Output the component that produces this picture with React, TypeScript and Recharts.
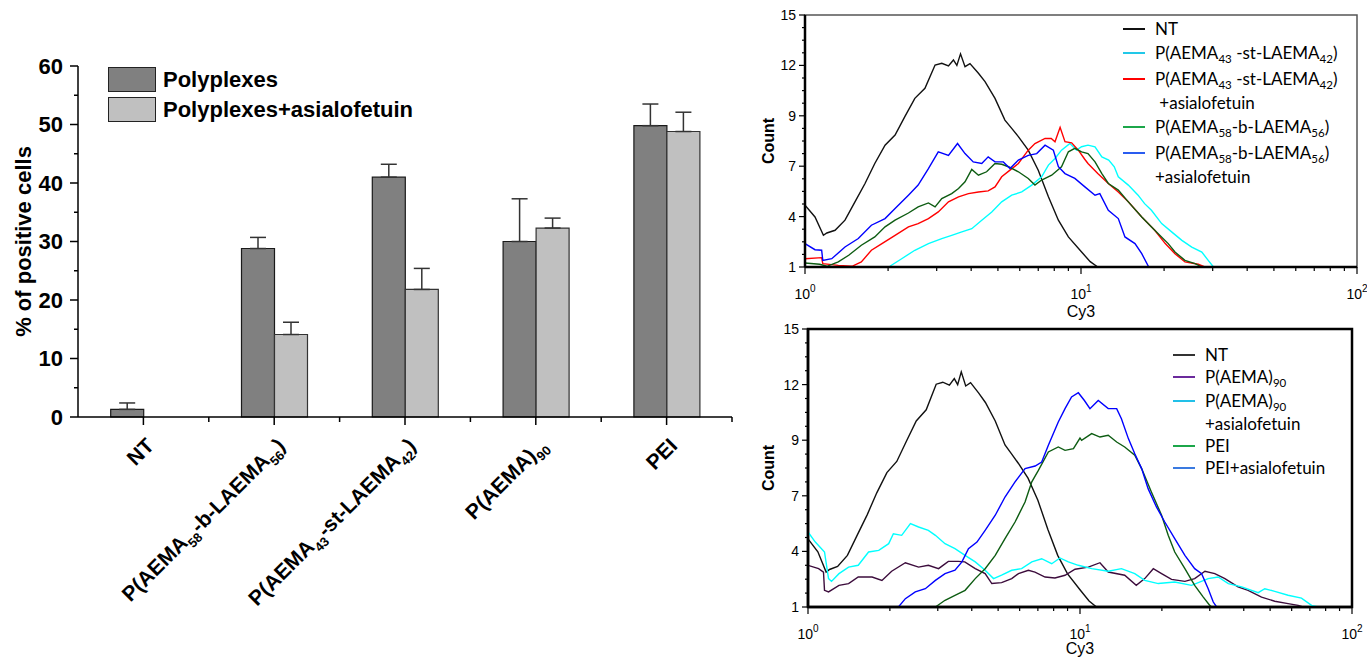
import React from "react";
import {
  BarChart,
  Bar,
  XAxis,
  YAxis,
  ErrorBar,
  Legend,
  LineChart,
  Line,
  Label,
  ReferenceArea,
} from "recharts";

const ARIAL = "'Liberation Sans', Arial, sans-serif";
const CALIBRI = "Lato, 'Open Sans', sans-serif";

// ---- bar chart (% of positive cells) ----
const categories = [
  "NT",
  "P(AEMA_{58}-b-LAEMA_{56})",
  "P(AEMA_{43}-st-LAEMA_{42})",
  "P(AEMA)_{90}",
  "PEI",
];
const seriesNames = ["Polyplexes", "Polyplexes+asialofetuin"];
const polyplexes = [1.3, 28.8, 41.0, 30.0, 49.8];
const polyplexesErr = [1.1, 1.9, 2.2, 7.3, 3.7];
const asialofetuin: (number | null)[] = [null, 14.1, 21.8, 32.3, 48.8];
const asialofetuinErr: (number | null)[] = [null, 2.1, 3.6, 1.7, 3.3];
const percentTicks = [0, 5, 10, 15, 20, 25, 30, 35, 40, 45, 50, 55, 60];

// ---- flow cytometry histograms: [Cy3, Count] ----
type Pt = [number, number];

const ntHistogram: Pt[] = [
  [1, 4.43], [1.087, 3.78], [1.166, 2.76], [1.2, 2.89], [1.285, 3.04], [1.396, 3.6],
  [1.517, 4.62], [1.65, 5.64], [1.79, 6.75], [1.95, 7.77], [2.12, 8.33], [2.3, 9.35],
  [2.5, 10.37], [2.72, 10.93], [2.96, 12.22], [3.13, 12.32], [3.31, 12.17], [3.45, 12.5],
  [3.55, 12.2], [3.66, 12.84], [3.8, 12.13], [3.96, 12.3], [4.25, 11.76], [4.49, 11.3],
  [4.88, 10.37], [5.3, 9.16], [5.61, 8.7], [5.93, 8.24], [6.44, 7.49], [7.0, 6.38],
  [7.62, 4.9], [8.28, 3.6], [9.0, 2.67], [10.05, 1.83], [10.8, 1.3], [11.5, 1],
];
const stHistogram: Pt[] = [
  [2.03, 1.04], [2.24, 1.46], [2.5, 1.93], [2.8, 2.3], [3.13, 2.58], [3.4, 2.76],
  [3.7, 2.95], [4.02, 3.13], [4.37, 3.6], [4.75, 4.06], [5.16, 4.62], [5.61, 4.99],
  [6.1, 5.17], [6.63, 5.55], [7.2, 6.01], [7.62, 6.66], [8.05, 7.03], [8.5, 7.49],
  [9.12, 7.86], [9.63, 7.49], [10.05, 7.68], [10.6, 7.77], [11.24, 7.68], [11.9, 7.12],
  [12.6, 6.94], [13.2, 6.57], [13.65, 6.01], [14.84, 5.55], [16.1, 4.99], [17.0, 4.52],
  [18.0, 4.15], [19.6, 3.41], [21.3, 2.95], [23.2, 2.48], [25.2, 2.11], [27.4, 1.83],
  [28.9, 1.37], [30.2, 1],
];
const stAsialoHistogram: Pt[] = [
  [1, 1.46], [1.149, 1.52], [1.16, 1.19], [1.32, 1.09], [1.48, 1.04], [1.6, 1.28],
  [1.74, 1.93], [1.9, 2.3], [2.12, 2.76], [2.37, 3.23], [2.57, 3.41], [2.8, 3.69],
  [3.04, 4.06], [3.31, 4.62], [3.6, 4.9], [3.91, 5.08], [4.25, 5.17], [4.61, 5.23],
  [4.88, 5.45], [5.16, 6.01], [5.53, 6.38], [5.93, 6.75], [6.44, 7.49], [6.81, 7.86],
  [7.41, 8.14], [7.8, 8.14], [8.05, 7.96], [8.4, 8.76], [8.75, 7.96], [9.25, 7.9],
  [9.78, 7.49], [10.3, 7.0], [10.6, 6.75], [11.5, 6.19], [12.56, 5.64], [13.65, 5.17],
  [14.84, 4.62], [16.6, 3.78], [18.5, 3.04], [20.2, 2.3], [21.9, 1.74], [23.8, 1.28],
  [26.6, 1.15], [28.1, 1],
];
const blockHistogram: Pt[] = [
  [1, 1.22], [1.13, 1.15], [1.2, 1.04], [1.32, 1.28], [1.44, 1.65], [1.6, 2.21],
  [1.79, 2.67], [1.95, 3.23], [2.12, 3.6], [2.37, 4.0], [2.57, 4.34], [2.8, 4.56],
  [2.96, 4.34], [3.13, 4.8], [3.4, 5.08], [3.6, 5.36], [3.8, 5.73], [4.02, 6.42],
  [4.25, 6.1], [4.55, 6.29], [4.88, 6.75], [5.16, 6.71], [5.46, 6.57], [5.93, 6.29],
  [6.44, 5.92], [6.81, 5.55], [7.2, 5.83], [7.83, 6.1], [8.5, 6.57], [9.0, 7.4],
  [9.5, 7.59], [10.05, 7.4], [10.6, 7.3], [11.24, 6.84], [11.9, 6.19], [12.56, 5.64],
  [13.65, 5.27], [14.84, 4.62], [16.6, 3.78], [18.5, 3.04], [20.7, 2.3], [21.9, 1.83],
  [23.8, 1.37], [25.9, 1.19], [27.4, 1],
];
const blockAsialoHistogram: Pt[] = [
  [1, 2.3], [1.087, 1.96], [1.149, 1.93], [1.16, 1.37], [1.25, 1.46], [1.396, 2.11],
  [1.56, 2.58], [1.74, 3.32], [1.95, 3.69], [2.12, 4.25], [2.37, 4.99], [2.57, 5.55],
  [2.8, 6.47], [3.04, 7.4], [3.31, 7.2], [3.57, 7.86], [3.8, 7.3], [4.07, 6.84],
  [4.37, 6.75], [4.61, 7.12], [4.88, 6.84], [5.23, 6.84], [5.53, 6.47], [5.93, 6.94],
  [6.44, 7.2], [6.91, 7.3], [7.41, 7.77], [7.94, 7.49], [8.28, 6.57], [8.75, 6.19],
  [9.5, 5.92], [10.33, 5.45], [11.24, 4.99], [11.7, 5.08], [12.56, 4.15], [13.65, 3.69],
  [14.43, 2.67], [15.69, 2.3], [16.6, 1.74], [17.6, 1],
];
const aema90Histogram: Pt[] = [
  [1, 3.1], [1.094, 2.93], [1.14, 2.76], [1.15, 1.84], [1.19, 1.76], [1.3, 2.09],
  [1.41, 2.18], [1.53, 2.51], [1.72, 2.51], [1.87, 2.34], [2.03, 2.8], [2.28, 3.23],
  [2.55, 3.01], [2.77, 3.1], [3.02, 2.93], [3.28, 3.3], [3.57, 3.3], [3.77, 3.27],
  [4.12, 2.93], [4.48, 2.68], [4.74, 2.18], [5.15, 2.23], [5.61, 2.43], [5.94, 2.68],
  [6.46, 2.85], [6.83, 2.76], [7.44, 2.51], [8.09, 2.46], [8.81, 2.6], [9.59, 2.9],
  [10.73, 3.01], [11.84, 3.23], [12.7, 2.76], [14.6, 2.6], [16.1, 2.09], [17.3, 2.43],
  [18.6, 2.93], [19.95, 2.68], [21.7, 2.39], [24.3, 2.29], [26.4, 2.43], [28.8, 2.8],
  [31.3, 2.68], [34.1, 2.43], [38.1, 2.01], [41.5, 1.84], [46.5, 1.5], [52, 1.29],
  [58.2, 1.17], [63.4, 1.08], [66.1, 1],
];
const aema90AsialoHistogram: Pt[] = [
  [1, 4.78], [1.064, 4.27], [1.15, 3.77], [1.19, 2.43], [1.22, 2.29], [1.3, 2.68],
  [1.41, 3.01], [1.53, 3.1], [1.67, 3.77], [1.82, 3.85], [1.98, 4.19], [2.06, 4.69],
  [2.21, 4.61], [2.38, 5.2], [2.55, 5.03], [2.77, 4.86], [2.94, 4.61], [3.19, 4.19],
  [3.47, 3.94], [3.78, 3.6], [4.12, 3.27], [4.48, 2.85], [4.81, 2.43], [5.15, 2.6],
  [5.61, 2.85], [6.1, 2.93], [6.65, 3.27], [7.23, 3.43], [7.87, 3.18], [8.44, 3.47],
  [9.06, 3.27], [9.86, 3.1], [11.04, 2.93], [12.7, 2.8], [14.2, 2.93], [15.9, 2.68],
  [17.3, 2.34], [19.4, 2.18], [22.3, 2.26], [25.7, 2.09], [29.6, 2.43], [32.2, 2.51],
  [35.1, 2.18], [39.3, 2.01], [45.2, 1.72], [47.8, 1.92], [52, 1.79], [58.2, 1.59],
  [65.2, 1.45], [71, 1.08], [75, 1],
];
const peiHistogram: Pt[] = [
  [2.94, 1], [3.19, 1.34], [3.47, 1.59], [3.78, 1.84], [4.12, 2.43], [4.48, 2.93],
  [4.88, 3.6], [5.3, 4.44], [5.77, 5.28], [6.28, 6.29], [6.65, 7.3], [7.03, 7.88],
  [7.65, 8.81], [8.32, 9.06], [8.81, 8.89], [9.46, 8.97], [10.0, 9.51], [10.14, 9.39],
  [11.04, 9.73], [11.84, 9.56], [12.7, 9.65], [13.64, 9.31], [14.6, 9.06], [15.9, 8.64],
  [16.85, 7.97], [18.3, 6.79], [19.95, 5.62], [21.1, 4.61], [22.3, 3.77], [24.3, 2.93],
  [26.4, 2.09], [28.4, 1.5], [30, 1.08], [30.5, 1],
];
const peiAsialoHistogram: Pt[] = [
  [2.15, 1], [2.28, 1.42], [2.48, 1.76], [2.7, 1.92], [2.94, 2.34], [3.19, 2.68],
  [3.47, 2.85], [3.68, 3.27], [3.89, 3.94], [4.18, 4.27], [4.48, 4.86], [4.88, 5.62],
  [5.3, 6.54], [5.77, 7.3], [6.28, 7.97], [6.84, 8.1], [7.23, 8.3], [7.65, 9.14],
  [8.32, 10.32], [8.81, 10.99], [9.31, 11.58], [9.86, 11.79], [10.38, 11.4], [10.88, 10.99],
  [11.67, 11.4], [12.7, 10.99], [13.64, 10.99], [14.2, 10.48], [15.06, 9.48], [15.9, 8.72],
  [16.85, 7.97], [17.8, 6.96], [19.1, 6.04], [20.5, 5.28], [22.3, 4.44], [24.3, 3.6],
  [26.4, 2.93], [28, 2.68], [29.6, 1.92], [30.9, 1.25], [31.8, 1],
];

const cy3Ticks = [1, 2, 3, 4, 5, 6, 7, 8, 9, 10, 20, 30, 40, 50, 60, 70, 80, 90, 100];
const countMajorTicks = [1, 3.8, 6.6, 9.4, 12.2, 15];
const countAxisTicks = [
  1, 1.7, 2.4, 3.1, 3.8, 4.5, 5.2, 5.9, 6.6, 7.3, 8, 8.7, 9.4, 10.1, 10.8, 11.5, 12.2,
  12.9, 13.6, 14.3, 15,
];

// "_{..}" marks a subscript
function splitSubs(s: string) {
  return s
    .split(/_\{([^}]*)\}/)
    .map((text, i) => ({ text, sub: i % 2 === 1 }))
    .filter((p) => p.text !== "");
}

function svgRich(value: string, subSize: number, shift: number) {
  let prevSub = false;
  return splitSubs(value).map((p, i) => {
    const dy = p.sub === prevSub ? 0 : p.sub ? shift : -shift;
    prevSub = p.sub;
    return (
      <tspan key={i} dy={dy} fontSize={p.sub ? subSize : undefined}>
        {p.text}
      </tspan>
    );
  });
}

function HtmlRich({ value }: { value: string }) {
  return (
    <>
      {splitSubs(value).map((p, i) =>
        p.sub ? (
          <span key={i} style={{ fontSize: "0.68em", position: "relative", top: 4 }}>
            {p.text}
          </span>
        ) : (
          <span key={i}>{p.text}</span>
        )
      )}
    </>
  );
}

const BAR_PLOT_W = 654;

const barData = categories.map((name, i) => ({
  name,
  poly: polyplexes[i],
  polyErr: [0, polyplexesErr[i]],
  asialo: asialofetuin[i],
  asialoErr: asialofetuinErr[i] == null ? null : [0, asialofetuinErr[i]],
}));

function BarYTick(props: any) {
  const { x, y, payload } = props;
  const major = payload.value % 10 === 0;
  return (
    <g>
      <line x1={x} x2={x - (major ? 8 : 4)} y1={y} y2={y} stroke="#000" strokeWidth={1.5} />
      {major && (
        <text
          x={x - 15}
          y={y}
          dy="0.36em"
          textAnchor="end"
          fontFamily={ARIAL}
          fontSize={22}
          fontWeight="bold"
          fill="#000"
        >
          {payload.value}
        </text>
      )}
    </g>
  );
}

function BarXTick(props: any) {
  const { x, y, payload } = props;
  const half = BAR_PLOT_W / categories.length / 2;
  const ex = x + 12;
  const ey = y + 30;
  return (
    <g>
      <line x1={x} x2={x} y1={y} y2={y + 8} stroke="#000" strokeWidth={1.5} />
      <line x1={x + half} x2={x + half} y1={y} y2={y + 5} stroke="#000" strokeWidth={1.5} />
      <text
        x={ex}
        y={ey}
        transform={`rotate(-45 ${ex} ${ey})`}
        textAnchor="end"
        fontFamily={ARIAL}
        fontSize={21}
        fontWeight="bold"
        fill="#000"
      >
        {svgRich(payload.value, 13, 6)}
      </text>
    </g>
  );
}

function BarLegend() {
  const fills = ["#808080", "#c0c0c0"];
  return (
    <div style={{ fontFamily: ARIAL, fontWeight: "bold", fontSize: 22, color: "#000" }}>
      {seriesNames.map((n, i) => (
        <div key={n} style={{ display: "flex", alignItems: "center", height: 25, marginBottom: 5 }}>
          <div
            style={{
              width: 48,
              height: 25,
              boxSizing: "border-box",
              border: "1.5px solid #222",
              background: fills[i],
              marginRight: 7,
            }}
          />
          <span style={{ whiteSpace: "nowrap" }}>{n}</span>
        </div>
      ))}
    </div>
  );
}

function PositiveCellsChart() {
  return (
    <BarChart
      width={760}
      height={658}
      data={barData}
      margin={{ top: 66, right: 28, bottom: 0, left: 0 }}
      barCategoryGap="25%"
      barGap={0}
    >
      <XAxis
        dataKey="name"
        height={241}
        interval={0}
        axisLine={{ stroke: "#000", strokeWidth: 1.5 }}
        tickLine={false}
        tickSize={0}
        tickMargin={0}
        tick={(p: any) => <BarXTick {...p} />}
      />
      <YAxis
        width={78}
        domain={[0, 60]}
        ticks={percentTicks}
        interval={0}
        axisLine={{ stroke: "#000", strokeWidth: 1.5 }}
        tickLine={false}
        tickSize={0}
        tickMargin={0}
        tick={(p: any) => <BarYTick {...p} />}
      >
        <Label
          content={(p: any) => {
            const vb = p.viewBox || { y: 66, height: 351 };
            const cy = vb.y + vb.height / 2;
            return (
              <text
                x={31}
                y={cy}
                transform={`rotate(-90 31 ${cy})`}
                textAnchor="middle"
                fontFamily={ARIAL}
                fontSize={22}
                fontWeight="bold"
                fill="#000"
              >
                % of positive cells
              </text>
            );
          }}
        />
      </YAxis>
      <Legend
        layout="horizontal"
        verticalAlign="middle"
        align="center"
        content={() => <BarLegend />}
        wrapperStyle={{ left: 108, top: 67, width: "auto" }}
      />
      <Bar dataKey="poly" fill="#808080" stroke="#1a1a1a" strokeWidth={1.2} isAnimationActive={false}>
        <ErrorBar dataKey="polyErr" width={8} stroke="#333" strokeWidth={1.5} direction="y" />
      </Bar>
      <Bar dataKey="asialo" fill="#c0c0c0" stroke="#333" strokeWidth={1.2} isAnimationActive={false}>
        <ErrorBar dataKey="asialoErr" width={8} stroke="#333" strokeWidth={1.5} direction="y" />
      </Bar>
    </BarChart>
  );
}

// ---- histogram panels ----
type HistSeries = { label: string[]; color: string; legendColor: string; points: Pt[] };

const topSeries: HistSeries[] = [
  { label: ["NT"], color: "#111111", legendColor: "#111111", points: ntHistogram },
  { label: ["P(AEMA_{43} -st-LAEMA_{42})"], color: "#00ffff", legendColor: "#22c8e8", points: stHistogram },
  { label: ["P(AEMA_{43} -st-LAEMA_{42})", " +asialofetuin"], color: "#ff0000", legendColor: "#ff0000", points: stAsialoHistogram },
  { label: ["P(AEMA_{58}-b-LAEMA_{56})"], color: "#0d5c12", legendColor: "#1ca64a", points: blockHistogram },
  { label: ["P(AEMA_{58}-b-LAEMA_{56})", "+asialofetuin"], color: "#0000ff", legendColor: "#2a5cf0", points: blockAsialoHistogram },
];

const bottomSeries: HistSeries[] = [
  { label: ["NT"], color: "#111111", legendColor: "#333333", points: ntHistogram },
  { label: ["P(AEMA)_{90}"], color: "#3c0c3c", legendColor: "#6b2a9c", points: aema90Histogram },
  { label: ["P(AEMA)_{90}", "+asialofetuin"], color: "#00ffff", legendColor: "#22c0e8", points: aema90AsialoHistogram },
  { label: ["PEI"], color: "#0d5c12", legendColor: "#1ca64a", points: peiHistogram },
  { label: ["PEI+asialofetuin"], color: "#0000ff", legendColor: "#3a7ae0", points: peiAsialoHistogram },
];

function CountTick(props: any) {
  const { x, y, payload } = props;
  const v = payload.value;
  const major = countMajorTicks.some((m) => Math.abs(m - v) < 1e-6);
  return (
    <g>
      <line x1={x} x2={x - (major ? 6 : 3)} y1={y} y2={y} stroke="#000" strokeWidth={1.2} />
      {major && (
        <text x={x - 9} y={y} dy="0.36em" textAnchor="end" fontFamily={ARIAL} fontSize={14} fill="#000">
          {Math.round(v)}
        </text>
      )}
    </g>
  );
}

function Cy3Tick(props: any) {
  const { x, y, payload } = props;
  const exp = Math.log10(payload.value);
  const major = Math.abs(exp - Math.round(exp)) < 1e-9;
  return (
    <g>
      <line x1={x} x2={x} y1={y} y2={y + (major ? 7 : 4)} stroke="#000" strokeWidth={1.2} />
      {major && (
        <text x={x} y={y + 32} textAnchor="middle" fontFamily={ARIAL} fontSize={14} fill="#000">
          10
          <tspan dy={-7} fontSize={10}>
            {Math.round(exp)}
          </tspan>
        </text>
      )}
    </g>
  );
}

function HistLegend({ series, lineHeight, gap }: { series: HistSeries[]; lineHeight: number; gap: number }) {
  return (
    <div style={{ fontFamily: CALIBRI, fontSize: 17, color: "#000", lineHeight: `${lineHeight}px` }}>
      {series.map((s, i) => (
        <div key={i} style={{ display: "flex", alignItems: "flex-start", marginBottom: gap }}>
          <div
            style={{
              width: 22,
              height: 2,
              background: s.legendColor,
              marginTop: lineHeight / 2 - 1,
              marginRight: 10,
              flex: "none",
            }}
          />
          <div style={{ whiteSpace: "pre" }}>
            {s.label.map((line, j) => (
              <div key={j}>
                <HtmlRich value={line} />
              </div>
            ))}
          </div>
        </div>
      ))}
    </div>
  );
}

type PanelProps = {
  height: number;
  yAxisWidth: number;
  marginTop: number;
  marginRight: number;
  xAxisHeight: number;
  frameStroke: string;
  frameWidth: number;
  series: HistSeries[];
  legendLeft: number;
  legendTop: number;
  legendLineHeight: number;
  legendGap: number;
  cy3Offset: number;
};

function FlowPanel(p: PanelProps) {
  return (
    <LineChart
      width={607}
      height={p.height}
      margin={{ top: p.marginTop, right: p.marginRight, bottom: 0, left: 0 }}
    >
      <ReferenceArea
        x1={1}
        x2={100}
        y1={1}
        y2={15}
        fill="none"
        fillOpacity={0}
        stroke={p.frameStroke}
        strokeWidth={p.frameWidth}
        ifOverflow="visible"
      />
      <XAxis
        dataKey="cy3"
        type="number"
        scale="log"
        domain={[1, 100]}
        allowDataOverflow
        ticks={cy3Ticks}
        interval={0}
        height={p.xAxisHeight}
        axisLine={{ stroke: "#000", strokeWidth: 2.5 }}
        tickLine={false}
        tickSize={0}
        tickMargin={0}
        tick={(t: any) => <Cy3Tick {...t} />}
      >
        <Label
          content={(lp: any) => {
            const vb = lp.viewBox || { x: 45, y: 267, width: 552 };
            return (
              <text
                x={vb.x + vb.width / 2}
                y={vb.y + p.cy3Offset}
                textAnchor="middle"
                fontFamily={ARIAL}
                fontSize={16}
                fill="#000"
              >
                Cy3
              </text>
            );
          }}
        />
      </XAxis>
      <YAxis
        type="number"
        domain={[1, 15]}
        allowDataOverflow
        ticks={countAxisTicks}
        interval={0}
        width={p.yAxisWidth}
        axisLine={{ stroke: "#000", strokeWidth: 2.5 }}
        tickLine={false}
        tickSize={0}
        tickMargin={0}
        tick={(t: any) => <CountTick {...t} />}
      >
        <Label
          content={(lp: any) => {
            const vb = lp.viewBox || { y: 15, height: 252 };
            const cy = vb.y + vb.height / 2;
            return (
              <text
                x={14}
                y={cy}
                transform={`rotate(-90 14 ${cy})`}
                textAnchor="middle"
                fontFamily={ARIAL}
                fontSize={16}
                fontWeight="bold"
                fill="#000"
              >
                Count
              </text>
            );
          }}
        />
      </YAxis>
      <Legend
        layout="horizontal"
        verticalAlign="middle"
        align="center"
        content={() => <HistLegend series={p.series} lineHeight={p.legendLineHeight} gap={p.legendGap} />}
        wrapperStyle={{ left: p.legendLeft, top: p.legendTop, width: "auto" }}
      />
      {p.series.map((s, i) => (
        <Line
          key={i}
          data={s.points.map(([cy3, count]) => ({ cy3, count }))}
          dataKey="count"
          type="linear"
          dot={false}
          activeDot={false}
          stroke={s.color}
          strokeWidth={1.4}
          isAnimationActive={false}
          legendType="none"
        />
      ))}
    </LineChart>
  );
}

export default function App() {
  return (
    <div
      style={{
        position: "absolute",
        left: 0,
        top: 0,
        width: 1367,
        height: 658,
        background: "#fff",
        overflow: "hidden",
      }}
    >
      <div style={{ position: "absolute", left: 0, top: 0 }}>
        <PositiveCellsChart />
      </div>
      <div style={{ position: "absolute", left: 760, top: 0 }}>
        <FlowPanel
          height={320}
          yAxisWidth={45}
          marginTop={15}
          marginRight={10}
          xAxisHeight={53}
          frameStroke="#555"
          frameWidth={1.5}
          series={topSeries}
          legendLeft={363}
          legendTop={18}
          legendLineHeight={22}
          legendGap={2}
          cy3Offset={50}
        />
      </div>
      <div style={{ position: "absolute", left: 760, top: 320 }}>
        <FlowPanel
          height={338}
          yAxisWidth={48}
          marginTop={9}
          marginRight={15}
          xAxisHeight={51}
          frameStroke="#000"
          frameWidth={2.5}
          series={bottomSeries}
          legendLeft={413}
          legendTop={24}
          legendLineHeight={21}
          legendGap={1}
          cy3Offset={47}
        />
      </div>
    </div>
  );
}
